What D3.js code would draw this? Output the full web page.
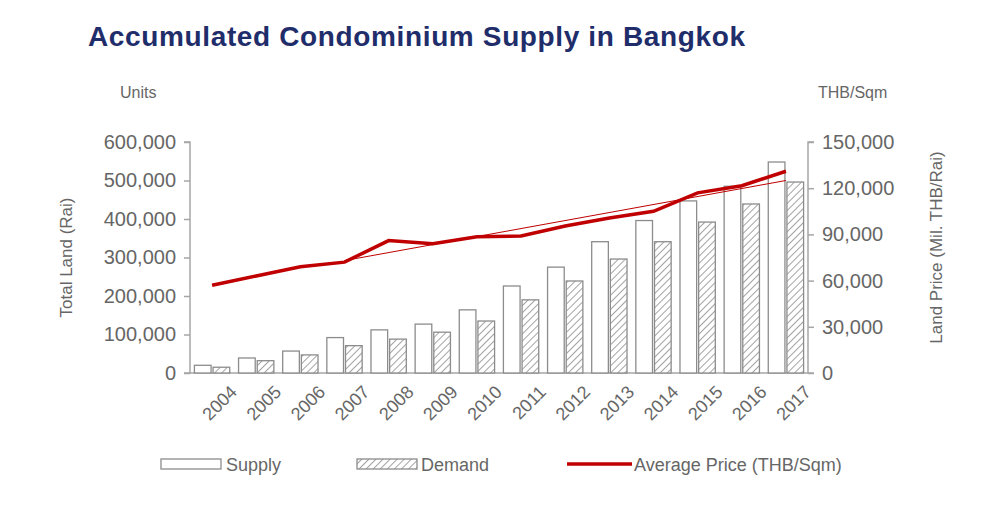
<!DOCTYPE html>
<html><head><meta charset="utf-8">
<script src="https://cdn.jsdelivr.net/npm/d3@7/dist/d3.min.js"></script>
<style>body{margin:0;background:#fff;font-family:"Liberation Sans",Arial,sans-serif}</style>
</head><body><svg id="c" width="1000" height="520"></svg>
<script>
const years=["2004","2005","2006","2007","2008","2009","2010","2011","2012","2013","2014","2015","2016","2017"];
const supply=[20000,39000,57000,92000,112000,127000,164000,226000,275000,341000,396000,447000,485000,548000];
const demand=[15000,32000,47000,71000,88000,106000,135000,190000,239000,296000,341000,392000,439000,496000];
const price=[57000,63000,69000,72000,86000,84000,88500,89000,95500,100600,105000,117000,121600,131000];
const trendYears=["2007","2017"];
const trendVals=[73000,125000];
const leftTicks=[0,100000,200000,300000,400000,500000,600000];
const rightTicks=[0,30000,60000,90000,120000,150000];

const svg=d3.select("#c");
const gray="#666666", axisCol="#a6a6a6", red="#c00000";
const L=190,R=808,T=142,B=373;
const x=d3.scaleBand().domain(years).range([L,R]).paddingInner(0.2).paddingOuter(0.1);
const yL=d3.scaleLinear().domain([0,600000]).range([B,T]);
const yR=d3.scaleLinear().domain([0,150000]).range([B,T]);
const fmt=d3.format(",");

const defs=svg.append("defs");
const p=defs.append("pattern").attr("id","hatch").attr("patternUnits","userSpaceOnUse").attr("width",5).attr("height",5).attr("patternTransform","rotate(45)");
p.append("rect").attr("width",5).attr("height",5).attr("fill","#fff");
p.append("line").attr("x1",0).attr("y1",0).attr("x2",0).attr("y2",5).attr("stroke","#8c8c8c").attr("stroke-width",1.6);

svg.append("text").attr("x",88).attr("y",46).attr("fill","#1f2d6b").attr("font-size",28).attr("font-weight","bold").attr("textLength",657).text("Accumulated Condominium Supply in Bangkok");
svg.append("text").attr("x",120).attr("y",98).attr("fill",gray).attr("font-size",16).text("Units");
svg.append("text").attr("x",818).attr("y",98).attr("fill",gray).attr("font-size",16).text("THB/Sqm");

const gL=svg.append("g").attr("transform",`translate(${L},0)`).call(d3.axisLeft(yL).tickValues(leftTicks).tickFormat(fmt).tickSize(6).tickPadding(8));
const gR=svg.append("g").attr("transform",`translate(${R},0)`).call(d3.axisRight(yR).tickValues(rightTicks).tickFormat(fmt).tickSize(6).tickPadding(8));
const gX=svg.append("g").attr("transform",`translate(0,${B})`).call(d3.axisBottom(x).tickSize(0).tickPadding(10));
[gL,gR,gX].forEach(g=>{g.selectAll("path,line").attr("stroke",axisCol).attr("stroke-width",1.5);g.selectAll("text").attr("fill",gray).attr("font-size",20).attr("font-family","Liberation Sans, Arial, sans-serif");});
gL.select("path").attr("d",`M-6,${T}H0V${B}H-6`);
gR.select("path").attr("d",`M6,${T}H0V${B}H6`);
gX.select("path").attr("d",`M${L},0H${R}`);
gX.selectAll("text").attr("font-size",18).attr("text-anchor","end").attr("transform","translate(10,4) rotate(-45)");

svg.append("text").attr("transform",`translate(72,${(T+B)/2}) rotate(-90)`).attr("text-anchor","middle").attr("fill",gray).attr("font-size",17).text("Total Land (Rai)");
svg.append("text").attr("transform",`translate(942,${(T+B)/2-10}) rotate(-90)`).attr("text-anchor","middle").attr("fill",gray).attr("font-size",17).text("Land Price (Mil. THB/Rai)");

const bw=x.bandwidth()/2;
svg.append("g").selectAll("rect").data(years).join("rect")
 .attr("x",d=>x(d)).attr("width",bw-1).attr("y",(d,i)=>yL(supply[i])).attr("height",(d,i)=>B-yL(supply[i]))
 .attr("fill","#fff").attr("stroke","#8c8c8c").attr("stroke-width",1.3);
svg.append("g").selectAll("rect").data(years).join("rect")
 .attr("x",d=>x(d)+bw+1).attr("width",bw-1).attr("y",(d,i)=>yL(demand[i])).attr("height",(d,i)=>B-yL(demand[i]))
 .attr("fill","url(#hatch)").attr("stroke","#8c8c8c").attr("stroke-width",1.3);

const cx=d=>x(d)+x.bandwidth()/2;
svg.append("path").attr("d",d3.line().x(d=>cx(d[0])).y(d=>yR(d[1]))(trendYears.map((d,i)=>[d,trendVals[i]]))).attr("stroke",red).attr("stroke-width",1).attr("fill","none");
svg.append("path").attr("d",d3.line().x((d,i)=>cx(d)).y((d,i)=>yR(price[i]))(years)).attr("stroke",red).attr("stroke-width",3.5).attr("fill","none");

const lg=svg.append("g").attr("font-size",18).attr("fill",gray);
lg.append("rect").attr("x",161).attr("y",459).attr("width",60).attr("height",10).attr("fill","#fff").attr("stroke","#8c8c8c").attr("stroke-width",1.3);
lg.append("text").attr("x",226).attr("y",471).text("Supply");
lg.append("rect").attr("x",357).attr("y",459).attr("width",60).attr("height",10).attr("fill","url(#hatch)").attr("stroke","#8c8c8c").attr("stroke-width",1.3);
lg.append("text").attr("x",421).attr("y",471).text("Demand");
lg.append("line").attr("x1",567).attr("x2",632).attr("y1",464).attr("y2",464).attr("stroke",red).attr("stroke-width",3.5);
lg.append("text").attr("x",634).attr("y",471).text("Average Price (THB/Sqm)");
</script></body></html>
